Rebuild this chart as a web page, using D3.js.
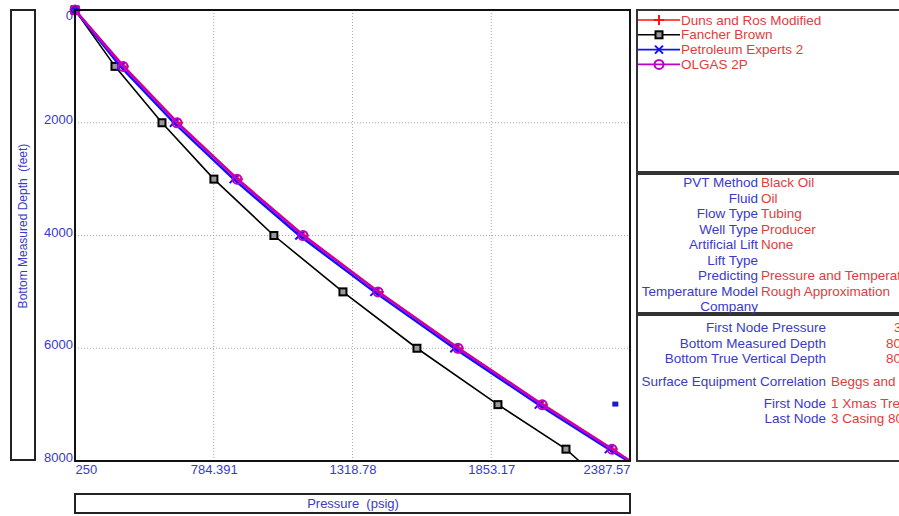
<!DOCTYPE html>
<html>
<head>
<meta charset="utf-8">
<script src="https://cdn.jsdelivr.net/npm/d3@7"></script>
<style>
  body { margin: 0; background: #fff; }
  svg { display: block; font-family: "Liberation Sans", Arial, sans-serif; }
</style>
</head>
<body>
<svg id="chart" width="899" height="516"></svg>
<script>
// datos
const depths = [0, 1000, 2000, 3000, 4000, 5000, 6000, 7000, 7790, 8000];
const dunsRos = [250, 438, 646, 877, 1131, 1420, 1728, 2052, 2321, 2387.57];
const fancherBrown = [250, 404, 585, 785, 1016, 1282, 1567, 1879, 2141, 2192];
const petExperts2 = [250, 425, 631, 861, 1114, 1403, 1711, 2036, 2306, 2380];
const olgas2P = [250, 435, 643, 874, 1128, 1417, 1725, 2049, 2318, 2387.57];
const measured = [{ pressure: 2331, depth: 6990 }];

const pressureTicks = [250, 784.391, 1318.78, 1853.17, 2387.57];
const pressureTickLabels = ["250", "784.391", "1318.78", "1853.17", "2387.57"];
const depthTicks = [0, 2000, 4000, 6000, 8000];

const seriesNames = ["Duns and Ros Modified", "Fancher Brown", "Petroleum Experts 2", "OLGAS 2P"];
const seriesColors = ["#ff1010", "#000000", "#1010ff", "#c000c8"];
const seriesMarkers = ["plus", "square", "cross", "circle"];
const seriesValues = [dunsRos, fancherBrown, petExperts2, olgas2P];

const pvtLabels = ["PVT Method", "Fluid", "Flow Type", "Well Type", "Artificial Lift", "Lift Type", "Predicting", "Temperature Model", "Company"];
const pvtValues = ["Black Oil", "Oil", "Tubing", "Producer", "None", "", "Pressure and Temperature", "Rough Approximation", ""];
const nodeLabels = ["First Node Pressure", "Bottom Measured Depth", "Bottom True Vertical Depth", "Surface Equipment Correlation", "First Node", "Last Node"];
const nodeValues = ["300.00 (psig)", "8000.00 (feet)", "8000.00 (feet)", "Beggs and Brill", "1 Xmas Tree", "3 Casing 8000.00 (feet)"];

const blueText = "#3a3ac8";
const redText = "#e23c3c";

const svg = d3.select("#chart");
const plot = { left: 75, top: 10, right: 630, bottom: 461 };

const x = d3.scaleLinear().domain([250, 2387.57]).range([plot.left, plot.right]);
const y = d3.scaleLinear().domain([0, 8000]).range([plot.top, plot.bottom]);

// rejilla punteada
const grid = svg.append("g");
grid.selectAll(".gx").data(pressureTicks.slice(1, -1)).enter()
    .append("line")
    .attr("x1", d => x(d)).attr("x2", d => x(d))
    .attr("y1", plot.top).attr("y2", plot.bottom)
    .attr("stroke", "#aaa").attr("stroke-dasharray", "1,2");
grid.selectAll(".gy").data(depthTicks.slice(1, -1)).enter()
    .append("line")
    .attr("y1", d => y(d)).attr("y2", d => y(d))
    .attr("x1", plot.left).attr("x2", plot.right)
    .attr("stroke", "#aaa").attr("stroke-dasharray", "1,2");

// ejes
const yAxis = svg.append("g")
    .attr("transform", `translate(${plot.left - 1},0)`)
    .call(d3.axisLeft(y).tickValues(depthTicks).tickSize(0).tickPadding(1).tickFormat(d3.format("d")));
yAxis.select(".domain").remove();
yAxis.selectAll("text")
    .attr("fill", blueText).attr("font-size", 13).attr("font-family", "Liberation Sans, Arial")
    .attr("dy", (d, i) => i === 0 ? "0.75em" : "0.05em");

const xAxis = svg.append("g")
    .attr("transform", `translate(0,${plot.bottom})`)
    .call(d3.axisBottom(x).tickValues(pressureTicks).tickSize(0).tickPadding(4)
        .tickFormat((d, i) => pressureTickLabels[i]));
xAxis.select(".domain").remove();
xAxis.selectAll("text")
    .attr("fill", blueText).attr("font-size", 13).attr("font-family", "Liberation Sans, Arial")
    .attr("text-anchor", (d, i) => i === 0 ? "start" : (i === pressureTicks.length - 1 ? "end" : "middle"));

// curvas
const line = d3.line()
    .x(d => x(d.pressure))
    .y(d => y(d.depth));

const curves = svg.append("g");
seriesValues.forEach((vals, s) => {
    const pts = vals.map((p, i) => ({ pressure: p, depth: depths[i] }));
    curves.append("path")
        .datum(pts)
        .attr("fill", "none")
        .attr("stroke", seriesColors[s])
        .attr("stroke-width", s === 1 ? 1.6 : 2.4)
        .attr("d", line);
    drawMarkers(curves, pts.slice(0, -1), seriesMarkers[s], seriesColors[s]);
});

function drawMarkers(g, pts, kind, color) {
    pts.forEach(d => {
        const cx = x(d.pressure), cy = y(d.depth);
        drawMarker(g, cx, cy, kind, color);
    });
}

function drawMarker(g, cx, cy, kind, color) {
    if (kind === "square") {
        g.append("rect").attr("x", cx - 3.5).attr("y", cy - 3.5).attr("width", 7).attr("height", 7)
            .attr("fill", "#999").attr("stroke", color).attr("stroke-width", 2);
    } else if (kind === "circle") {
        g.append("circle").attr("cx", cx).attr("cy", cy).attr("r", 4.5)
            .attr("fill", "none").attr("stroke", color).attr("stroke-width", 2);
    } else if (kind === "cross") {
        g.append("path").attr("d", `M${cx - 4},${cy - 4}L${cx + 4},${cy + 4}M${cx - 4},${cy + 4}L${cx + 4},${cy - 4}`)
            .attr("stroke", color).attr("stroke-width", 2);
    } else {
        g.append("path").attr("d", `M${cx},${cy - 5}L${cx},${cy + 5}M${cx - 5},${cy}L${cx + 5},${cy}`)
            .attr("stroke", color).attr("stroke-width", 2);
    }
}

// punto medido
svg.selectAll(".meas").data(measured).enter()
    .append("rect")
    .attr("x", d => x(d.pressure) - 3).attr("y", d => y(d.depth) - 2.5)
    .attr("width", 6).attr("height", 5)
    .attr("fill", "#1a1ad0");

// marco del grafico
svg.append("rect")
    .attr("x", plot.left).attr("y", plot.top)
    .attr("width", plot.right - plot.left).attr("height", plot.bottom - plot.top)
    .attr("fill", "none").attr("stroke", "#111").attr("stroke-width", 2);

// titulos de ejes
svg.append("rect").attr("x", 11).attr("y", 10).attr("width", 24).attr("height", 450)
    .attr("fill", "none").attr("stroke", "#222").attr("stroke-width", 2);
svg.append("text")
    .attr("transform", "translate(27,226) rotate(-90)")
    .attr("text-anchor", "middle").attr("font-size", 12).attr("fill", blueText)
    .attr("xml:space", "preserve")
    .text("Bottom Measured Depth  (feet)");

svg.append("rect").attr("x", 75).attr("y", 494).attr("width", 555).attr("height", 19)
    .attr("fill", "none").attr("stroke", "#222").attr("stroke-width", 2);
svg.append("text")
    .attr("x", 353).attr("y", 508)
    .attr("text-anchor", "middle").attr("font-size", 13).attr("fill", blueText)
    .attr("xml:space", "preserve")
    .text("Pressure  (psig)");

// leyenda
svg.append("rect").attr("x", 637).attr("y", 10).attr("width", 280).attr("height", 162)
    .attr("fill", "none").attr("stroke", "#333").attr("stroke-width", 2);
const legend = svg.append("g");
seriesNames.forEach((name, i) => {
    const ly = 20 + i * 14.8;
    legend.append("line").attr("x1", 638).attr("x2", 680).attr("y1", ly).attr("y2", ly)
        .attr("stroke", seriesColors[i]).attr("stroke-width", 1.6);
    drawMarker(legend, 659, ly, seriesMarkers[i], seriesColors[i]);
    legend.append("text").attr("x", 681).attr("y", ly + 4.5)
        .attr("font-size", 13.5).attr("fill", redText).text(name);
});

// cuadro PVT
svg.append("rect").attr("x", 637).attr("y", 174).attr("width", 280).attr("height", 139)
    .attr("fill", "none").attr("stroke", "#333").attr("stroke-width", 2);
pvtLabels.forEach((lab, i) => {
    const ty = 187 + i * 15.5;
    svg.append("text").attr("x", 758).attr("y", ty).attr("text-anchor", "end")
        .attr("font-size", 13.5).attr("fill", blueText).text(lab);
    svg.append("text").attr("x", 761).attr("y", ty)
        .attr("font-size", 13.5).attr("fill", redText).text(pvtValues[i]);
});

// cuadro de nodos
svg.append("rect").attr("x", 637).attr("y", 315).attr("width", 280).attr("height", 146)
    .attr("fill", "none").attr("stroke", "#333").attr("stroke-width", 2);
const nodeRows = [332, 348, 363, 386, 408, 423];
nodeLabels.forEach((lab, i) => {
    svg.append("text").attr("x", 826).attr("y", nodeRows[i]).attr("text-anchor", "end")
        .attr("font-size", 13.5).attr("fill", blueText).text(lab);
    const v = svg.append("text").attr("font-size", 13.5).attr("fill", redText).attr("y", nodeRows[i]).text(nodeValues[i]);
    if (i < 3) v.attr("x", i === 0 ? 894 : 886);
    else v.attr("x", 831);
});
</script>
</body>
</html>
